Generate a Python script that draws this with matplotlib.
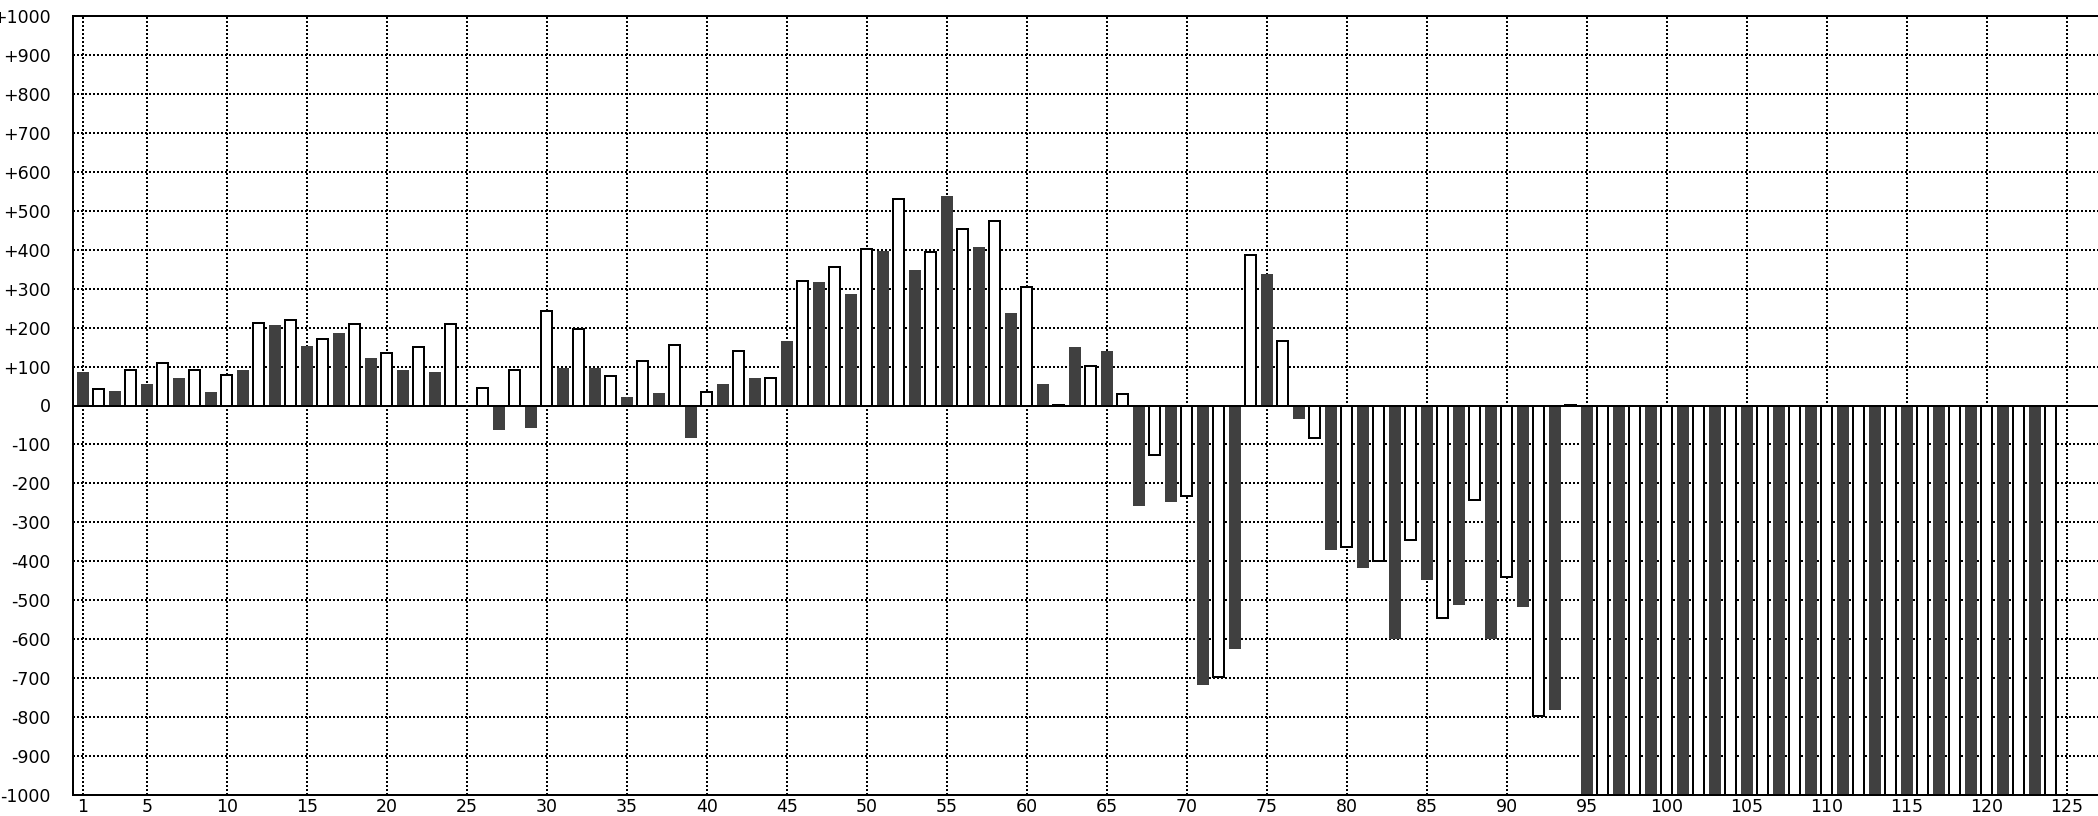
import matplotlib
matplotlib.use("Agg")
import matplotlib.pyplot as plt
from matplotlib.ticker import FixedLocator

# Bar numbers 1..124 and values
bar_numbers = list(range(1, 125))
values = [
    87, 42, 38, 90, 54, 110, 70, 90, 34, 78,
    91, 213, 207, 219, 154, 172, 185, 208, 122, 136,
    90, 150, 86, 208, 0, 45, -62, 92, -57, 243,
    97, 197, 97, 77, 22, 113, 33, 156, -83, 35,
    54, 140, 70, 71, 165, 320, 317, 356, 287, 403,
    397, 530, 349, 393, 539, 453, 407, 473, 237, 303,
    54, 2, 149, 102, 139, 29, -257, -128, -247, -233,
    -717, -698, -624, 386, 338, 166, -35, -83, -371, -363,
    -417, -398, -600, -346, -447, -546, -512, -242, -600, -441,
    -517, -796, -781, 1, -1000, -1000, -1000, -1000, -1000, -1000,
    -1000, -1000, -1000, -1000, -1000, -1000, -1000, -1000, -1000, -1000,
    -1000, -1000, -1000, -1000, -1000, -1000, -1000, -1000, -1000, -1000,
    -1000, -1000, -1000, -1000,
]
x_ticks = [1, 5, 10, 15, 20, 25, 30, 35, 40, 45, 50, 55, 60, 65, 70, 75, 80,
           85, 90, 95, 100, 105, 110, 115, 120, 125]
y_ticks = [1000, 900, 800, 700, 600, 500, 400, 300, 200, 100, 0,
           -100, -200, -300, -400, -500, -600, -700, -800, -900, -1000]
y_tick_labels = ["+1000", "+900", "+800", "+700", "+600", "+500", "+400", "+300",
                 "+200", "+100", "0", "-100", "-200", "-300", "-400", "-500",
                 "-600", "-700", "-800", "-900", "-1000"]

W, H = 2098, 816
fig = plt.figure(figsize=(W / 100, H / 100), dpi=100)
fig.patch.set_facecolor("white")
ax = fig.add_axes([73 / W, 21 / H, (W - 73) / W, (795 - 16) / H])

px = 0.72  # one pixel in points
dark_x = [n for n in bar_numbers if n % 2 == 1]
dark_v = [v for n, v in zip(bar_numbers, values) if n % 2 == 1]
white_x = [n for n in bar_numbers if n % 2 == 0]
white_v = [v for n, v in zip(bar_numbers, values) if n % 2 == 0]

ax.bar(dark_x, dark_v, width=0.75, color="#404040", linewidth=0, zorder=2)
ax.bar(white_x, white_v, width=0.69, facecolor="white", edgecolor="black",
       linewidth=2 * px, zorder=2)
ax.axhline(0, color="black", linewidth=2 * px, zorder=3)

ax.set_xlim(0.394, 126.96)
ax.set_ylim(-1000, 1000)
ax.xaxis.set_major_locator(FixedLocator(x_ticks))
ax.set_xticklabels([str(t) for t in x_ticks])
ax.set_yticks(y_ticks)
ax.set_yticklabels(y_tick_labels)

ax.set_axisbelow(True)
ax.grid(True, color="black", linestyle=(0, (1, 1)), linewidth=2 * px)

ax.tick_params(axis="both", length=0, labelsize=12.5, labelcolor="black")
ax.tick_params(axis="y", pad=16)
ax.tick_params(axis="x", pad=2)

for side in ["left", "top", "bottom"]:
    ax.spines[side].set_linewidth(2 * px)
    ax.spines[side].set_color("black")
ax.spines["right"].set_visible(False)

fig.savefig("out.png", dpi=100, facecolor="white")
